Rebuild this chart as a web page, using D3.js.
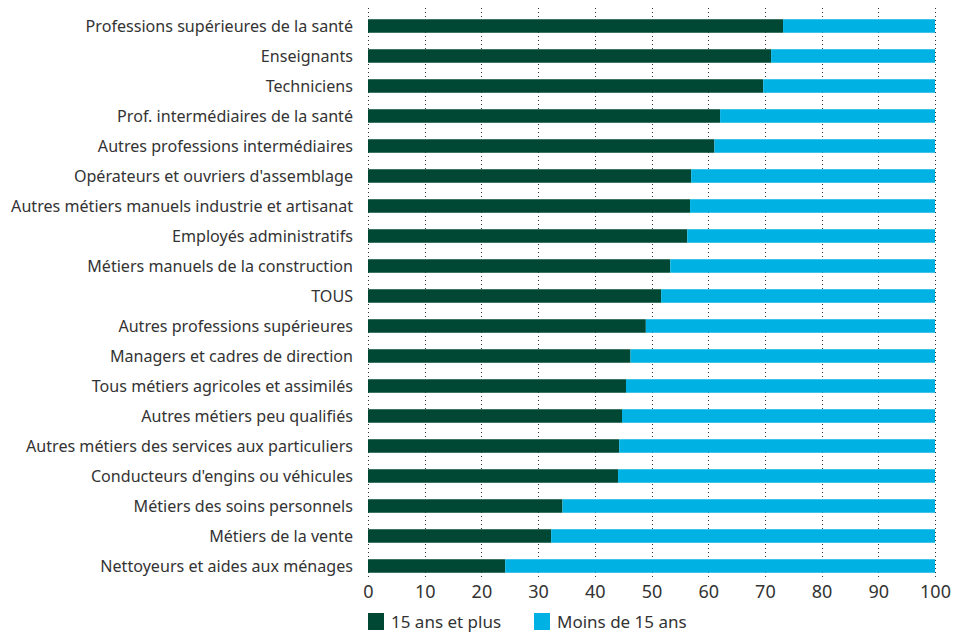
<!DOCTYPE html>
<html>
<head>
<meta charset="utf-8">
<script src="https://cdn.jsdelivr.net/npm/d3@7"></script>
<style>
  body { margin: 0; background: #fff; }
  svg { font-family: "Noto Sans", "Open Sans", sans-serif; }
</style>
</head>
<body>
<div id="chart"></div>
<script>
var categories = [
  "Professions supérieures de la santé",
  "Enseignants",
  "Techniciens",
  "Prof. intermédiaires de la santé",
  "Autres professions intermédiaires",
  "Opérateurs et ouvriers d'assemblage",
  "Autres métiers manuels industrie et artisanat",
  "Employés administratifs",
  "Métiers manuels de la construction",
  "TOUS",
  "Autres professions supérieures",
  "Managers et cadres de direction",
  "Tous métiers agricoles et assimilés",
  "Autres métiers peu qualifiés",
  "Autres métiers des services aux particuliers",
  "Conducteurs d'engins ou véhicules",
  "Métiers des soins personnels",
  "Métiers de la vente",
  "Nettoyeurs et aides aux ménages"
]
// share with 15+ years of seniority, the rest is "Moins de 15 ans"
var plus15 = [73.2, 71.1, 69.7, 62.1, 61.1, 57.0, 56.8, 56.3, 53.3, 51.7,
              49.0, 46.3, 45.5, 44.8, 44.3, 44.1, 34.3, 32.3, 24.2]
var moins15 = plus15.map(function(v) { return 100 - v })
var seriesNames = ["15 ans et plus", "Moins de 15 ans"]
var colors = ["#004833", "#00b2e3"]
var ticks = [0, 10, 20, 30, 40, 50, 60, 70, 80, 90, 100]

var width = 959,
    height = 632

var svg = d3.select("#chart")
  .append("svg")
    .attr("width", width)
    .attr("height", height)

var x = d3.scaleLinear().domain([0, 100]).range([368, 935])
var y = d3.scaleBand().domain(categories).range([11, 581]).paddingInner(0.55).paddingOuter(0.275)

// dotted vertical grid
svg.append("g")
  .selectAll("line")
  .data(ticks)
  .enter()
  .append("line")
    .attr("x1", function(d) { return Math.round(x(d)) + 0.5 })
    .attr("x2", function(d) { return Math.round(x(d)) + 0.5 })
    .attr("y1", 8)
    .attr("y2", 577)
    .attr("stroke", "#333")
    .attr("stroke-width", 1)
    .attr("stroke-dasharray", "1,3")

var rows = categories.map(function(c, i) {
  return { cat: c, a: plus15[i], b: moins15[i] }
})

var bars = svg.append("g")
bars.selectAll("rect.a")
  .data(rows)
  .enter()
  .append("rect")
    .attr("x", x(0))
    .attr("y", function(d) { return y(d.cat) })
    .attr("width", function(d) { return x(d.a) - x(0) })
    .attr("height", y.bandwidth())
    .attr("fill", colors[0])
bars.selectAll("rect.b")
  .data(rows)
  .enter()
  .append("rect")
    .attr("x", function(d) { return x(d.a) })
    .attr("y", function(d) { return y(d.cat) })
    .attr("width", function(d) { return x(100) - x(d.a) })
    .attr("height", y.bandwidth())
    .attr("fill", colors[1])

// category labels
svg.append("g")
  .selectAll("text")
  .data(categories)
  .enter()
  .append("text")
    .attr("x", 353)
    .attr("y", function(d) { return y(d) + y.bandwidth() / 2 })
    .attr("dy", "0.35em")
    .attr("text-anchor", "end")
    .style("font-size", "16.1px")
    .style("fill", "#333")
    .text(function(d) { return d })

// x axis labels
var xAxis = d3.axisBottom(x).tickValues(ticks).tickSize(0).tickPadding(0)
var gx = svg.append("g")
  .attr("transform", "translate(0,592)")
  .call(xAxis)
gx.select(".domain").remove()
gx.selectAll("text")
  .attr("y", 0)
  .attr("dy", "0.36em")
  .style("font-size", "18px")
  .style("font-family", "\"Noto Sans\", sans-serif")
  .style("fill", "#333")

// legend
var legendX = [368, 534]
var lg = svg.append("g")
  .selectAll("g")
  .data(seriesNames)
  .enter()
  .append("g")
    .attr("transform", function(d, i) { return "translate(" + legendX[i] + ",613)" })
lg.append("rect")
  .attr("width", 16)
  .attr("height", 17)
  .attr("fill", function(d, i) { return colors[i] })
lg.append("text")
  .attr("x", 23)
  .attr("y", 8.5)
  .attr("dy", "0.36em")
  .style("font-size", "17px")
  .style("fill", "#333")
  .text(function(d) { return d })
</script>
</body>
</html>
